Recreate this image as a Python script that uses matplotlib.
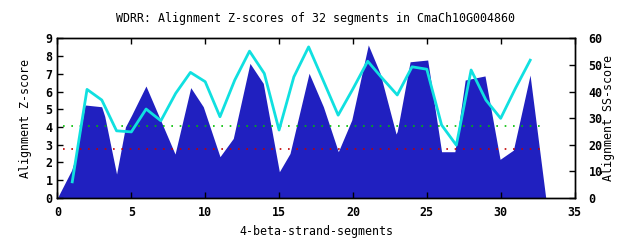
import matplotlib
matplotlib.use("Agg")
import matplotlib.pyplot as plt

# Z-score profile (filled area), vertices
z_x = [0, 0.96, 1.3, 1.86, 2.99, 3.2, 4.0, 4.6, 5.02, 5.99, 7.96, 9.02, 9.87,
       11.0, 11.9, 13.03, 13.93, 15.02, 15.74, 17.03, 18.0, 19.01, 19.92,
       21.04, 21.84, 22.92, 23.0, 23.87, 25.06, 26.0, 26.9, 27.6, 28.94,
       29.96, 30.86, 31.99, 33.05]
z_y = [0, 1.56, 2.5, 5.24, 5.14, 4.6, 1.34, 4.0, 4.67, 6.31, 2.47, 6.22, 5.14,
       2.32, 3.35, 7.59, 6.46, 1.47, 2.5, 7.03, 5.14, 2.6, 4.39,
       8.63, 7.03, 3.6, 3.75, 7.68, 7.78, 2.6, 2.6, 6.65, 6.88,
       2.17, 2.69, 6.93, 0.0]

# SS-score per segment (right axis)
segments = list(range(1, 33))
ss_score = [6.0, 40.8, 36.8, 25.2, 24.8, 33.4, 29.0, 39.3, 47.2, 43.7,
            30.5, 44.3, 55.2, 46.8, 25.5, 45.5, 56.8, 44.0, 31.1, 41.0,
            51.4, 44.9, 38.7, 49.3, 48.4, 27.4, 19.8, 48.1, 36.8, 29.9,
            41.2, 51.8]

green_level = 4.03
red_level = 2.75

plt.rcParams['font.family'] = ['DejaVu Sans Mono']
plt.rcParams['font.weight'] = 'bold'
plt.rcParams['font.size'] = 8.4

fig = plt.figure(figsize=(6.4, 2.4), dpi=100)
ax = fig.add_axes([0.0898, 0.176, 0.8079, 0.664])

ax.fill_between(z_x, z_y, 0, color='#2020c0', linewidth=0)
ax.plot([0.4, 33.05], [green_level, green_level], color='#00c000',
        linestyle=(0, (1, 4)), linewidth=1.2)
ax.plot([0.4, 33.05], [red_level, red_level], color='#c00000',
        linestyle=(0, (1, 4)), linewidth=1.2)

ax.set_xlim(0, 35)
ax.set_ylim(0, 9)
ax.set_xticks(range(0, 36, 5))
ax.set_yticks(range(0, 10))
ax.tick_params(direction='in', length=4, width=1, top=True, labeltop=False)
ax.tick_params(axis='x', pad=6)
ax.set_xlabel('4-beta-strand-segments', labelpad=4)
ax.set_ylabel('Alignment Z-score', labelpad=10)
ax.set_title('WDRR: Alignment Z-scores of 32 segments in CmaCh10G004860',
             fontsize=8.4, pad=12)

ax2 = ax.twinx()
ax2.plot(segments, ss_score, color='#10e0e0', linewidth=2)
ax2.set_ylim(0, 60)
ax2.set_yticks(range(0, 61, 10))
ax2.tick_params(direction='in', length=4, width=1, pad=10)
ax2.set_ylabel('Alignment SS-score', labelpad=0)

for a in (ax, ax2):
    for s in a.spines.values():
        s.set_linewidth(1)

fig.savefig('out.png', dpi=100)
